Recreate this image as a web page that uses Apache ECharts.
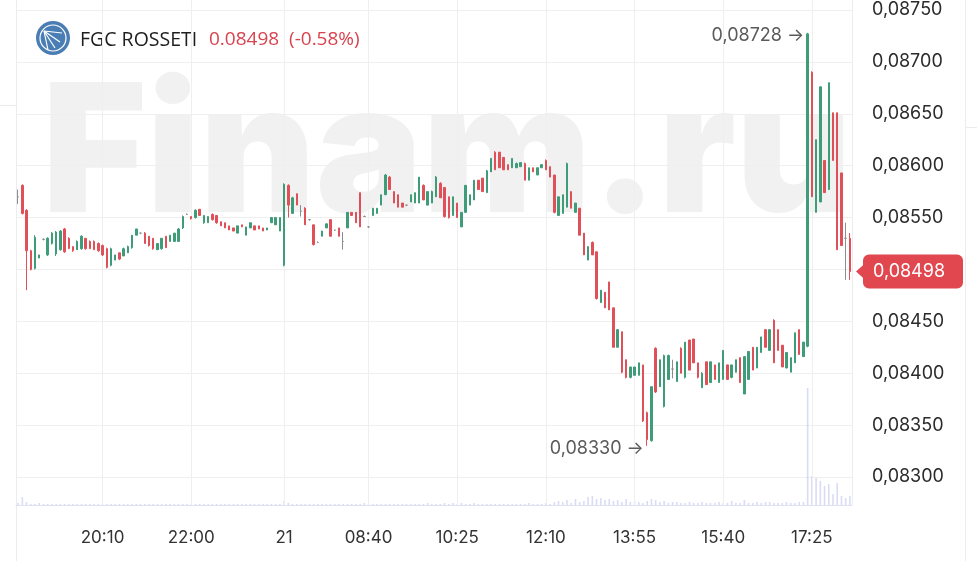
<!DOCTYPE html>
<html><head><meta charset="utf-8">
<script src="https://cdn.jsdelivr.net/npm/echarts@6/dist/echarts.min.js"></script>
<style>html,body{margin:0;padding:0;background:#fff;}#c{width:977px;height:561px;}</style>
</head><body><div id="c"></div>
<script>
// [open, close, lowest, highest]
const candles = [
[0.08570,0.08570,0.08563,0.08577],[0.08581,0.08554,0.08553,0.08582],[0.08557,0.08518,0.08480,0.08558],[0.08518,0.08500,0.08499,0.08519],[0.08501,0.08531,0.08500,0.08533],
[0.08511,0.08514,0.08511,0.08514],[0.08529,0.08529,0.08528,0.08530],[0.08514,0.08530,0.08513,0.08531],[0.08525,0.08535,0.08524,0.08536],[0.08515,0.08536,0.08513,0.08537],
[0.08519,0.08537,0.08518,0.08538],[0.08539,0.08517,0.08516,0.08540],[0.08530,0.08520,0.08520,0.08531],[0.08522,0.08518,0.08517,0.08522],[0.08519,0.08527,0.08519,0.08528],
[0.08520,0.08532,0.08519,0.08533],[0.08530,0.08520,0.08519,0.08530],[0.08527,0.08520,0.08520,0.08528],[0.08527,0.08519,0.08519,0.08528],[0.08525,0.08518,0.08517,0.08526],
[0.08523,0.08514,0.08513,0.08524],[0.08520,0.08502,0.08501,0.08521],[0.08504,0.08520,0.08503,0.08521],[0.08509,0.08514,0.08509,0.08514],[0.08516,0.08510,0.08509,0.08516],
[0.08513,0.08520,0.08513,0.08521],[0.08516,0.08522,0.08516,0.08523],[0.08521,0.08533,0.08520,0.08533],[0.08533,0.08539,0.08533,0.08539],[0.08535,0.08535,0.08534,0.08535],
[0.08535,0.08525,0.08525,0.08536],[0.08532,0.08523,0.08522,0.08532],[0.08530,0.08520,0.08519,0.08530],[0.08519,0.08525,0.08519,0.08525],[0.08520,0.08530,0.08519,0.08530],
[0.08532,0.08521,0.08521,0.08532],[0.08527,0.08533,0.08527,0.08533],[0.08527,0.08535,0.08527,0.08535],[0.08527,0.08539,0.08527,0.08540],[0.08540,0.08551,0.08539,0.08552],
[0.08553,0.08553,0.08553,0.08554],[0.08551,0.08549,0.08548,0.08551],[0.08550,0.08557,0.08549,0.08558],[0.08558,0.08552,0.08552,0.08558],[0.08545,0.08552,0.08544,0.08552],
[0.08545,0.08551,0.08545,0.08551],[0.08553,0.08548,0.08547,0.08554],[0.08552,0.08545,0.08544,0.08552],[0.08546,0.08542,0.08542,0.08546],[0.08545,0.08540,0.08540,0.08545],
[0.08542,0.08538,0.08538,0.08542],[0.08540,0.08537,0.08537,0.08540],[0.08535,0.08542,0.08535,0.08542],[0.08543,0.08541,0.08541,0.08543],[0.08533,0.08541,0.08533,0.08541],
[0.08540,0.08545,0.08540,0.08545],[0.08542,0.08538,0.08538,0.08542],[0.08542,0.08539,0.08539,0.08542],[0.08540,0.08537,0.08537,0.08540],[0.08538,0.08540,0.08538,0.08540],
[0.08545,0.08550,0.08545,0.08550],[0.08543,0.08550,0.08543,0.08550],[0.08537,0.08550,0.08537,0.08550],[0.08504,0.08582,0.08503,0.08583],[0.08581,0.08562,0.08550,0.08582],
[0.08554,0.08569,0.08554,0.08570],[0.08573,0.08562,0.08562,0.08573],[0.08556,0.08556,0.08551,0.08562],[0.08559,0.08543,0.08543,0.08560],[0.08548,0.08548,0.08547,0.08548],
[0.08543,0.08524,0.08523,0.08543],[0.08526,0.08526,0.08526,0.08527],[0.08532,0.08537,0.08532,0.08537],[0.08540,0.08544,0.08540,0.08544],[0.08548,0.08532,0.08532,0.08548],
[0.08538,0.08538,0.08537,0.08538],[0.08540,0.08532,0.08532,0.08540],[0.08527,0.08527,0.08519,0.08536],[0.08540,0.08555,0.08540,0.08555],[0.08555,0.08552,0.08552,0.08555],
[0.08555,0.08545,0.08545,0.08555],[0.08574,0.08541,0.08541,0.08574],[0.08551,0.08551,0.08551,0.08552],[0.08541,0.08541,0.08540,0.08541],[0.08552,0.08559,0.08552,0.08559],
[0.08554,0.08559,0.08554,0.08559],[0.08562,0.08572,0.08562,0.08572],[0.08572,0.08591,0.08572,0.08592],[0.08589,0.08577,0.08577,0.08590],[0.08575,0.08564,0.08564,0.08575],
[0.08572,0.08560,0.08560,0.08572],[0.08564,0.08560,0.08560,0.08564],[0.08562,0.08562,0.08561,0.08562],[0.08565,0.08572,0.08565,0.08572],[0.08564,0.08574,0.08564,0.08574],
[0.08564,0.08589,0.08564,0.08589],[0.08581,0.08567,0.08567,0.08582],[0.08562,0.08575,0.08562,0.08575],[0.08564,0.08575,0.08564,0.08576],[0.08570,0.08589,0.08570,0.08590],
[0.08583,0.08569,0.08569,0.08584],[0.08579,0.08551,0.08550,0.08579],[0.08570,0.08550,0.08549,0.08570],[0.08552,0.08570,0.08552,0.08570],[0.08564,0.08550,0.08550,0.08564],
[0.08541,0.08555,0.08541,0.08555],[0.08555,0.08581,0.08555,0.08581],[0.08562,0.08572,0.08562,0.08572],[0.08567,0.08586,0.08567,0.08586],[0.08586,0.08577,0.08577,0.08586],
[0.08588,0.08575,0.08575,0.08588],[0.08574,0.08595,0.08574,0.08596],[0.08594,0.08607,0.08594,0.08607],[0.08613,0.08596,0.08596,0.08614],[0.08613,0.08598,0.08598,0.08613],
[0.08608,0.08596,0.08596,0.08608],[0.08601,0.08596,0.08596,0.08601],[0.08598,0.08607,0.08598,0.08607],[0.08598,0.08602,0.08598,0.08603],[0.08599,0.08603,0.08599,0.08603],
[0.08602,0.08586,0.08586,0.08603],[0.08586,0.08598,0.08586,0.08598],[0.08598,0.08594,0.08594,0.08598],[0.08591,0.08598,0.08591,0.08598],[0.08598,0.08601,0.08598,0.08601],
[0.08605,0.08596,0.08596,0.08606],[0.08599,0.08589,0.08589,0.08599],[0.08591,0.08555,0.08554,0.08591],[0.08552,0.08570,0.08552,0.08570],[0.08554,0.08572,0.08554,0.08572],
[0.08560,0.08602,0.08560,0.08603],[0.08575,0.08559,0.08559,0.08575],[0.08555,0.08564,0.08555,0.08564],[0.08559,0.08533,0.08533,0.08559],[0.08535,0.08514,0.08514,0.08535],
[0.08509,0.08522,0.08509,0.08522],[0.08526,0.08514,0.08514,0.08527],[0.08517,0.08472,0.08471,0.08517],[0.08468,0.08480,0.08468,0.08480],[0.08478,0.08463,0.08463,0.08478],
[0.08488,0.08461,0.08461,0.08488],[0.08463,0.08425,0.08425,0.08463],[0.08425,0.08442,0.08425,0.08442],[0.08440,0.08401,0.08400,0.08440],[0.08413,0.08396,0.08395,0.08413],
[0.08396,0.08406,0.08395,0.08406],[0.08398,0.08406,0.08398,0.08406],[0.08398,0.08410,0.08398,0.08410],[0.08408,0.08354,0.08353,0.08408],[0.08362,0.08336,0.08330,0.08363],
[0.08335,0.08387,0.08334,0.08387],[0.08424,0.08382,0.08381,0.08425],[0.08387,0.08413,0.08387,0.08413],[0.08368,0.08417,0.08367,0.08418],[0.08394,0.08417,0.08394,0.08418],
[0.08404,0.08404,0.08395,0.08413],[0.08392,0.08411,0.08392,0.08411],[0.08424,0.08400,0.08400,0.08425],[0.08396,0.08430,0.08395,0.08430],[0.08432,0.08403,0.08403,0.08432],
[0.08433,0.08410,0.08410,0.08433],[0.08410,0.08396,0.08395,0.08410],[0.08386,0.08400,0.08386,0.08401],[0.08411,0.08389,0.08389,0.08411],[0.08391,0.08411,0.08391,0.08411],
[0.08408,0.08394,0.08394,0.08408],[0.08391,0.08410,0.08391,0.08410],[0.08394,0.08422,0.08394,0.08422],[0.08408,0.08394,0.08394,0.08408],[0.08396,0.08408,0.08395,0.08408],
[0.08401,0.08413,0.08401,0.08413],[0.08415,0.08391,0.08391,0.08415],[0.08380,0.08416,0.08380,0.08416],[0.08394,0.08421,0.08394,0.08421],[0.08425,0.08403,0.08403,0.08425],
[0.08405,0.08425,0.08405,0.08425],[0.08420,0.08435,0.08420,0.08435],[0.08442,0.08425,0.08425,0.08442],[0.08422,0.08442,0.08422,0.08442],[0.08451,0.08410,0.08410,0.08452],
[0.08442,0.08422,0.08422,0.08442],[0.08427,0.08406,0.08406,0.08427],[0.08405,0.08420,0.08405,0.08420],[0.08401,0.08415,0.08401,0.08415],[0.08410,0.08439,0.08410,0.08439],
[0.08442,0.08418,0.08418,0.08442],[0.08416,0.08430,0.08416,0.08430],[0.08426,0.08727,0.08425,0.08728],[0.08690,0.08570,0.08570,0.08691],[0.08555,0.08625,0.08555,0.08625],
[0.08565,0.08676,0.08565,0.08676],[0.08605,0.08574,0.08574,0.08605],[0.08577,0.08680,0.08577,0.08680],[0.08651,0.08605,0.08605,0.08651],[0.08651,0.08519,0.08519,0.08651],
[0.08593,0.08523,0.08523,0.08593],[0.08530,0.08530,0.08490,0.08545],[0.08530,0.08498,0.08490,0.08535]
];
const volumes = [
2,8,3,1,1,2,1,1,1,1, 1,1,1,1,1,1,1,1,1,1, 1,1,1,1,1,1,1,1,1,1, 1,1,1,1,1,1,1,1,1,1,
1,1,1,1,1,1,1,1,1,1, 1,1,1,1,1,1,1,1,1,1, 1,1,1,4,2,1,1,1,1,1, 1,1,1,1,1,1,1,1,1,1,
1,1,2,1,1,1,1,1,1,1, 1,1,1,1,1,1,1,2,1,1, 1,2,1,2,1,2,1,1,2,1, 1,1,1,1,1,1,1,1,1,1,
1,2,1,1,1,2,1,3,4,3, 5,2,6,3,4,8,9,6,7,5, 6,4,5,3,6,3,4,3,2,4, 6,5,3,4,2,3,3,2,2,3,
2,2,3,2,2,2,3,2,2,4, 2,2,5,2,2,3,2,3,3,2, 2,2,3,2,2,3,3,117,29,27, 24,19,21,11,22,9,7,9
];
const tickIndex = [20, 41, 63, 83, 104, 125, 146, 167, 188];
const tickLabels = ['20:10', '22:00', '21', '08:40', '10:25', '12:10', '13:55', '15:40', '17:25'];
const ticker = 'FGC ROSSETI';
const lastPrice = 0.08498;
const changeText = '(-0.58%)';

const UP = '#3e9c79', DOWN = '#e05058', DOJI = '#8c8c8c';
const GRID = '#efefef';
const FONT = 'Inter';
const comma = v => Number(v).toFixed(5).replace('.', ',');
const cats = candles.map((_, i) => String(i));

const chart = echarts.init(document.getElementById('c'), null, {renderer: 'canvas'});
const baseGraphic = [
  {type: 'text', z: -100, silent: true, style: {x: 42, y: 69, text: 'Finam.ru', fill: '#f1f1f1',
    font: '900 179px Inter', verticalAlign: 'top', align: 'left'}},
  {type: 'line', silent: true, shape: {x1: 16.5, y1: 0, x2: 16.5, y2: 561}, style: {stroke: '#ececec', lineWidth: 1}},
  {type: 'line', silent: true, shape: {x1: 852.5, y1: 0, x2: 852.5, y2: 505}, style: {stroke: '#ececec', lineWidth: 1}},
  {type: 'line', silent: true, shape: {x1: 965.5, y1: 0, x2: 965.5, y2: 561}, style: {stroke: '#ececec', lineWidth: 1}},
  {type: 'line', silent: true, shape: {x1: 0, y1: 105.5, x2: 16, y2: 105.5}, style: {stroke: '#ececec', lineWidth: 1}},
  {type: 'line', silent: true, shape: {x1: 966, y1: 127.5, x2: 977, y2: 127.5}, style: {stroke: '#ececec', lineWidth: 1}},
  {type: 'group', children: [
    {type: 'circle', shape: {cx: 53, cy: 38, r: 17}, style: {fill: '#4a7db4'}},
    {type: 'circle', shape: {cx: 53, cy: 38, r: 13}, style: {fill: 'none', stroke: '#ffffff', lineWidth: 1.2}},
    {type: 'polyline', shape: {points: [[44, 31], [62, 33]]}, style: {stroke: '#fff', lineWidth: 1.2}},
    {type: 'polyline', shape: {points: [[44, 31], [60, 42]]}, style: {stroke: '#fff', lineWidth: 1.2}},
    {type: 'polyline', shape: {points: [[44, 31], [55, 48]]}, style: {stroke: '#fff', lineWidth: 1.2}},
    {type: 'polyline', shape: {points: [[44, 31], [48, 50]]}, style: {stroke: '#fff', lineWidth: 1.2}}
  ]},
  {type: 'text', style: {x: 80, y: 40, text: ticker, fill: '#1e1e1e', font: '19.5px "Open Sans"', verticalAlign: 'middle'}},
  {type: 'text', style: {x: 209, y: 40, text: lastPrice.toFixed(5) + '  ' + changeText, fill: '#d8434e', font: '19px "Open Sans"', verticalAlign: 'middle'}}
];
const option = {
  animation: false,
  backgroundColor: '#ffffff',
  grid: [
    {left: 16, right: 125, top: 10, bottom: 84, outerBoundsMode: 'none'},
    {left: 16, right: 125, top: 0, bottom: 56, outerBoundsMode: 'none'}
  ],
  xAxis: [
    {type: 'category', gridIndex: 0, data: cats, show: false, boundaryGap: true},
    {type: 'category', gridIndex: 1, data: cats, boundaryGap: true,
     axisLine: {show: true, lineStyle: {color: '#dfe2f2', width: 1}},
     axisTick: {show: false}, splitLine: {show: false},
     axisLabel: {
       interval: i => tickIndex.includes(i), margin: 24,
       formatter: (v, i) => { const k = tickIndex.indexOf(i); return k >= 0 ? tickLabels[k] : ''; },
       color: '#333', fontSize: 17, fontFamily: FONT
     }}
  ],
  yAxis: [
    {type: 'value', gridIndex: 0, position: 'right', min: 0.083, max: 0.0875, interval: 0.0005,
     axisLine: {show: false}, axisTick: {show: false},
     splitLine: {show: true, lineStyle: {color: GRID, width: 1}},
     axisLabel: {margin: 20, color: '#2b2b2b', fontSize: 18, fontFamily: FONT, formatter: v => comma(v)}},
    {type: 'value', gridIndex: 1, min: 0, max: 505, show: false, splitLine: {show: false}}
  ],
  series: [
    {type: 'bar', xAxisIndex: 1, yAxisIndex: 1, data: volumes, barWidth: 1.6,
     itemStyle: {color: 'rgba(170,178,232,0.45)'}, silent: true, z: 1,
     markLine: {silent: true, symbol: ['none', 'none'], label: {show: false},
       lineStyle: {color: GRID, type: 'solid', width: 1},
       data: tickIndex.map(i => ({xAxis: i}))}},
    {type: 'candlestick', xAxisIndex: 0, yAxisIndex: 0, data: candles, barWidth: 2, z: 5,
     itemStyle: {color: UP, color0: DOWN, borderColor: UP, borderColor0: DOWN, borderColorDoji: DOJI, borderWidth: 1},
     markPoint: {
       symbol: 'circle', symbolSize: 1, itemStyle: {color: 'rgba(0,0,0,0)'},
       label: {show: true, position: 'left', distance: 3, color: '#5a5a5a', fontSize: 18, fontFamily: FONT,
         formatter: p => comma(p.value) + ' \u2192'},
       data: [
         {type: 'max', valueDim: 'highest', label: {offset: [0, 3]}},
         {type: 'min', valueDim: 'lowest', label: {offset: [0, 3]}}
       ]
     },
     markLine: {silent: true, symbol: ['none', 'none'], label: {show: false},
       lineStyle: {color: DOWN, type: [5, 4], width: 2},
       data: [{yAxis: lastPrice}]}
    }
  ],
  graphic: baseGraphic
};
chart.setOption(option);

const ty = chart.convertToPixel({yAxisIndex: 0}, lastPrice);
chart.setOption({graphic: baseGraphic.concat([
  {type: 'group', zlevel: 2, z: 100, children: [
    {type: 'polygon', zlevel: 2, z: 100, shape: {points: [[856, ty], [866, ty - 9], [866, ty + 9]]}, style: {fill: '#e0474f'}},
    {type: 'rect', zlevel: 2, z: 100, shape: {x: 863, y: ty - 17, width: 100, height: 34, r: 6}, style: {fill: '#e0474f'}},
    {type: 'text', zlevel: 2, z: 101, style: {x: 873, y: ty, text: comma(lastPrice), fill: '#ffffff', font: '18px Inter', verticalAlign: 'middle'}}
  ]}
])});
</script>
</body></html>
